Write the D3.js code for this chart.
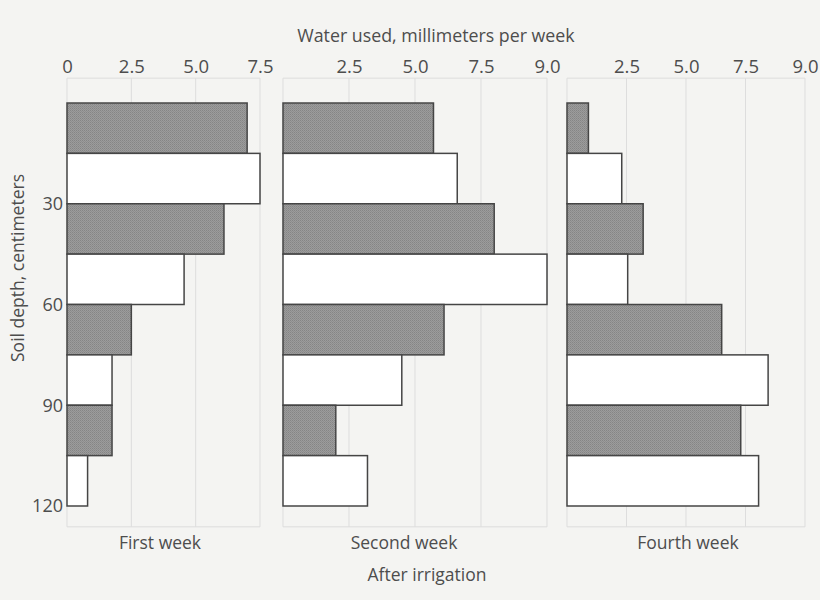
<!DOCTYPE html>
<html>
<head>
<meta charset="utf-8">
<script src="https://cdn.jsdelivr.net/npm/d3@7"></script>
<style>
  html, body { margin: 0; padding: 0; background: #f4f4f2; }
  svg { display: block; }
  text { font-family: "Open Sans", "Noto Sans", sans-serif; fill: #4d4d4d; }
</style>
</head>
<body>
<svg id="chart" width="820" height="600"></svg>
<script>
// Soil layers, 15 cm each, from the surface down to 120 cm
const layerTops = [0, 15, 30, 45, 60, 75, 90, 105];
const layerThickness = 15;
const depthTicks = [30, 60, 90, 120];

// Water used (mm per week) by each layer
const firstWeek  = [7.0, 7.5, 6.1, 4.55, 2.5, 1.75, 1.75, 0.8];
const secondWeek = [5.7, 6.6, 8.0, 10.0, 6.1, 4.5, 2.0, 3.2];
const fourthWeek = [0.9, 2.3, 3.2, 2.55, 6.5, 8.45, 7.3, 8.05];

const panelNames = ["First week", "Second week", "Fourth week"];

// Top axis ticks for each panel, and the labels printed at them
const panelTickValues = [[0, 2.5, 5, 7.5], [2.5, 5, 7.5, 10], [2.5, 5, 7.5, 10]];
const panelTickLabels = [["0", "2.5", "5.0", "7.5"], ["2.5", "5.0", "7.5", "9.0"], ["2.5", "5.0", "7.5", "9.0"]];
const panelMax = [7.5, 10, 10];

const series = [firstWeek, secondWeek, fourthWeek];

const svg = d3.select("#chart");
const FONT = "\"Open Sans\", \"Noto Sans\", sans-serif";

// stippled fill for the shaded layers
const defs = svg.append("defs");
const pat = defs.append("pattern")
  .attr("id", "stipple").attr("patternUnits", "userSpaceOnUse")
  .attr("width", 2).attr("height", 2);
pat.append("rect").attr("width", 2).attr("height", 2).attr("fill", "#9c9c9c");
pat.append("rect").attr("width", 1).attr("height", 1).attr("fill", "#858585");
pat.append("rect").attr("x", 1).attr("y", 1).attr("width", 1).attr("height", 1).attr("fill", "#8e8e8e");

// shared depth scale
const y = d3.scaleLinear().domain([0, 120]).range([103, 506]);
const gridTop = y(-7.4), gridBottom = y(126.2);

// horizontal extents of the three panels
const panelRanges = [[67, 260], [283, 547], [567, 805]];
const captionX = [160, 404, 688];

series.forEach((vals, p) => {
  const x = d3.scaleLinear().domain([0, panelMax[p]]).range(panelRanges[p]);
  const g = svg.append("g");

  // light grid box
  const gridX = [0].concat(panelTickValues[p].filter(v => v > 0));
  g.selectAll("line.grid").data(gridX).join("line")
    .attr("x1", d => x(d)).attr("x2", d => x(d))
    .attr("y1", gridTop).attr("y2", gridBottom)
    .attr("stroke", "#dddddd").attr("stroke-width", 1);
  [gridTop, gridBottom].forEach(yy => {
    g.append("line")
      .attr("x1", x(0)).attr("x2", x(panelMax[p]))
      .attr("y1", yy).attr("y2", yy)
      .attr("stroke", "#dddddd").attr("stroke-width", 1);
  });

  // top axis tick labels
  const axis = d3.axisTop(x)
    .tickValues(panelTickValues[p])
    .tickSize(0)
    .tickPadding(0)
    .tickFormat((d, i) => panelTickLabels[p][i]);
  const ag = g.append("g").attr("transform", "translate(0,73)").call(axis);
  ag.select(".domain").remove();
  ag.selectAll("text")
    .attr("font-size", 18.5)
    .attr("fill", "#4d4d4d")
    .attr("font-family", FONT);

  // layer bars
  g.selectAll("rect.bar").data(vals).join("rect")
    .attr("x", x(0))
    .attr("y", (d, i) => y(layerTops[i]))
    .attr("width", d => x(d) - x(0))
    .attr("height", (d, i) => y(layerTops[i] + layerThickness) - y(layerTops[i]))
    .attr("fill", (d, i) => i % 2 === 0 ? "url(#stipple)" : "#ffffff")
    .attr("stroke", "#454545")
    .attr("stroke-width", 1.5);

  // panel caption
  g.append("text")
    .attr("x", captionX[p]).attr("y", 549)
    .attr("text-anchor", "middle")
    .attr("font-size", 17.5)
    .text(panelNames[p]);
});

// depth axis labels
svg.append("g").selectAll("text").data(depthTicks).join("text")
  .attr("x", 63).attr("y", d => y(d))
  .attr("dy", "0.35em")
  .attr("text-anchor", "end")
  .attr("font-size", 18)
  .text(d => d);

// axis titles
svg.append("text")
  .attr("x", 436).attr("y", 42)
  .attr("text-anchor", "middle")
  .attr("font-size", 17.8)
  .text("Water used, millimeters per week");

svg.append("text")
  .attr("transform", "translate(24,268) rotate(-90)")
  .attr("text-anchor", "middle")
  .attr("font-size", 17.5)
  .text("Soil depth, centimeters");

svg.append("text")
  .attr("x", 427).attr("y", 581)
  .attr("text-anchor", "middle")
  .attr("font-size", 17.5)
  .text("After irrigation");
</script>
</body>
</html>
